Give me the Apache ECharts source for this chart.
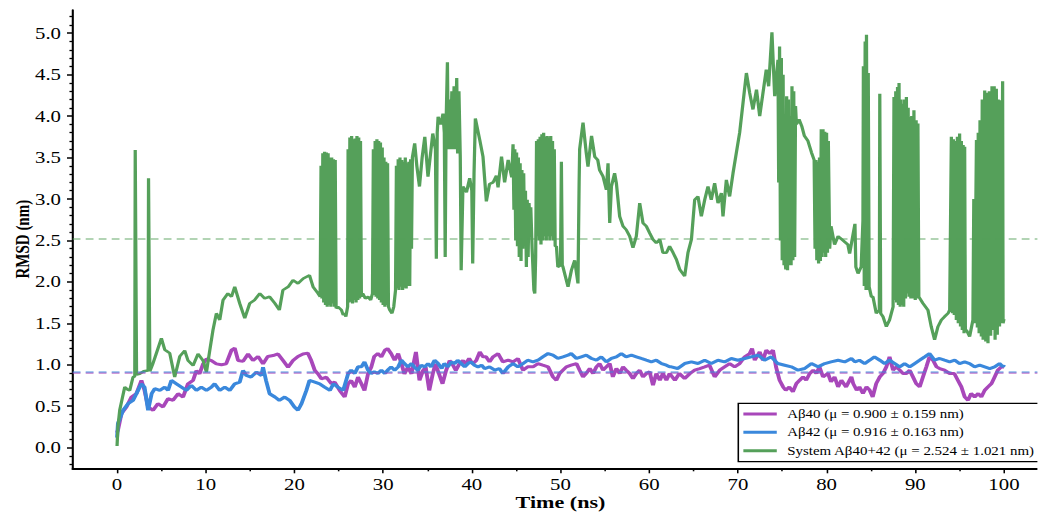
<!DOCTYPE html>
<html>
<head>
<meta charset="utf-8">
<script src="https://cdn.jsdelivr.net/npm/echarts@6/dist/echarts.min.js"></script>
<style>
html, body { margin: 0; padding: 0; background: #fff; overflow: hidden; }
#wrap { width: 1038px; height: 513px; overflow: hidden; }
#chart { height: 513px; transform-origin: 0 0; }
</style>
</head>
<body>
<div id="wrap"><div id="chart"></div></div>
<script>
// source figure is stretched horizontally, so draw narrower and scale x
const SX = 1.3;

const xMajorTicks = [0, 10, 20, 30, 40, 50, 60, 70, 80, 90, 100];
const xMinorTicks = [5, 15, 25, 35, 45, 55, 65, 75, 85, 95];
const yMajorTicks = [0, 0.5, 1, 1.5, 2, 2.5, 3, 3.5, 4, 4.5, 5];
const yMinorTicks = [-0.2, -0.1, 0.1, 0.2, 0.3, 0.4, 0.6, 0.7, 0.8, 0.9, 1.1, 1.2, 1.3, 1.4, 1.6, 1.7, 1.8, 1.9,
  2.1, 2.2, 2.3, 2.4, 2.6, 2.7, 2.8, 2.9, 3.1, 3.2, 3.3, 3.4, 3.6, 3.7, 3.8, 3.9, 4.1, 4.2, 4.3, 4.4,
  4.6, 4.7, 4.8, 4.9, 5.1, 5.2];

const mean40 = 0.900, sd40 = 0.159;
const mean42 = 0.916, sd42 = 0.163;
const meanSys = 2.524, sdSys = 1.021;

// Aβ40 RMSD (nm) vs time (ns)
const abeta40 = [[0,0.18],[0.1,0.21],[0.5,0.41],[1.06,0.49],[1.62,0.61],[2.18,0.65],[2.75,0.81],[3.1,0.69],[3.5,0.49],
  [4.06,0.45],[4.6,0.53],[5.19,0.49],[5.75,0.59],[6.31,0.57],[6.88,0.65],[7.44,0.61],[8.0,0.77],[8.57,0.81],[8.95,0.93],
  [9.3,0.89],[9.7,1.01],[10.08,1.07],[10.64,1.05],[11.2,1.01],[11.77,1.0],[12.3,1.01],[12.9,1.175],[13.27,1.2],[13.65,1.05],
  [14.2,1.04],[14.77,1.13],[15.33,1.05],[15.9,1.1],[16.46,1.01],[17.0,1.1],[17.59,1.11],[18.15,1.13],[18.72,1.05],[19.28,0.97],
  [19.84,1.05],[20.4,1.1],[20.97,1.13],[21.5,1.14],[21.9,1.05],[22.3,0.93],[22.66,0.89],[23.04,0.83],[23.6,0.85],[24.17,0.77],
  [24.54,0.79],[25.1,0.69],[25.67,0.61],[26.05,0.77],[26.4,0.81],[26.8,0.73],[27.17,0.85],[27.55,0.77],[27.9,0.69],[28.3,0.89],
  [28.66,0.97],[29.0,1.1],[29.4,1.135],[29.8,1.095],[30.2,1.175],[30.5,1.195],[30.9,1.135],[31.3,1.054],[31.7,1.135],[32.06,1.014],
  [32.4,0.89],[32.8,0.97],[33.2,0.89],[33.7,1.155],[34.1,0.81],[34.5,0.93],[34.8,0.97],[35.2,0.69],[35.6,0.89],[35.9,1.01],
  [36.3,0.89],[36.7,0.77],[37.1,0.93],[37.5,1.05],[37.8,1.01],[38.2,0.93],[38.6,1.01],[39.0,1.05],[39.3,1.01],[39.7,1.075],
  [40.1,1.01],[40.5,1.05],[40.9,1.155],[41.26,1.095],[41.6,1.095],[42.0,1.034],[42.4,1.095],[42.96,1.135],[43.5,1.034],[44.1,1.054],
  [44.65,1.034],[45.2,1.075],[45.77,0.934],[46.3,0.974],[46.9,0.974],[47.46,1.014],[48.0,0.994],[48.6,0.974],[49.15,0.853],[49.54,0.813],
  [49.9,0.894],[50.28,0.934],[50.66,0.974],[51.2,0.994],[51.8,1.014],[52.16,0.934],[52.54,0.853],[52.9,0.894],[53.3,0.954],[53.67,0.894],
  [54.05,0.974],[54.4,1.014],[54.8,0.934],[55.17,0.974],[55.55,1.014],[55.9,0.853],[56.3,0.954],[56.67,0.894],[57.05,0.974],[57.4,0.934],
  [57.8,0.894],[58.17,0.833],[58.55,0.894],[58.93,0.934],[59.3,0.853],[59.68,0.894],[60.05,0.914],[60.43,0.752],[60.8,0.894],[61.2,0.813],
  [61.55,0.894],[61.94,0.813],[62.3,0.894],[62.9,0.813],[63.4,0.894],[64.0,0.833],[64.6,0.894],[65.13,0.934],[65.7,0.954],[66.26,0.974],
  [66.8,0.994],[67.38,0.853],[67.95,0.934],[68.5,0.974],[69.07,1.014],[69.64,0.974],[70.2,1.014],[70.77,1.095],[71.33,1.135],[71.6,1.195],
  [71.9,1.054],[72.46,1.155],[72.83,1.054],[73.2,1.175],[73.6,1.135],[73.96,1.175],[74.3,0.974],[74.7,0.813],[75.1,0.732],[75.4,0.692],
  [75.8,0.732],[76.2,0.672],[76.6,0.773],[76.97,0.813],[77.35,0.853],[77.7,0.813],[78.1,0.894],[78.5,0.934],[78.85,0.894],[79.2,0.974],
  [79.6,0.853],[80.16,0.894],[80.5,0.793],[80.9,0.853],[81.3,0.732],[81.67,0.813],[82.2,0.732],[82.8,0.853],[83.0,0.773],[83.4,0.692],
  [83.7,0.732],[84.1,0.652],[84.5,0.732],[84.86,0.692],[85.2,0.611],[85.6,0.773],[86.0,0.853],[86.36,0.894],[86.74,0.974],[87.1,1.095],
  [87.5,0.934],[87.87,0.974],[88.25,0.934],[88.6,0.894],[89.0,0.894],[89.37,0.934],[89.74,0.853],[90.1,0.773],[90.5,0.732],[90.87,0.853],
  [91.25,0.974],[91.6,1.095],[92.0,1.054],[92.4,0.974],[92.75,0.954],[93.3,0.934],[93.88,0.894],[94.4,0.894],[94.8,0.813],[95.2,0.732],
  [95.57,0.611],[95.95,0.571],[96.3,0.652],[96.7,0.611],[97.1,0.652],[97.45,0.611],[97.83,0.692],[98.2,0.732],[98.6,0.773],[98.95,0.853],
  [99.3,0.934],[99.7,0.974],[100,0.97]];

// Aβ42 RMSD (nm)
const abeta42 = [[0,0.12],[0.1,0.29],[0.68,0.45],[1.24,0.53],[1.8,0.57],[2.37,0.69],[2.75,0.77],[3.1,0.73],[3.5,0.45],[3.9,0.65],
  [4.25,0.71],[4.82,0.69],[5.38,0.73],[5.75,0.69],[6.13,0.81],[6.7,0.77],[7.26,0.73],[7.82,0.69],[8.38,0.75],[8.95,0.69],
  [9.5,0.73],[10.08,0.69],[10.64,0.73],[11.0,0.77],[11.58,0.69],[12.15,0.73],[12.7,0.69],[13.27,0.77],[13.83,0.79],[14.2,0.93],
  [14.58,0.87],[15.1,0.85],[15.7,0.91],[16.28,0.87],[16.46,0.97],[16.8,0.81],[17.2,0.65],[17.8,0.61],[18.3,0.57],[18.9,0.61],
  [19.46,0.57],[20.0,0.49],[20.4,0.45],[20.8,0.53],[21.35,0.69],[21.7,0.81],[22.3,0.79],[22.85,0.77],[23.4,0.73],[24.0,0.69],
  [24.4,0.77],[24.9,0.73],[25.5,0.69],[26.05,0.89],[26.4,0.934],[26.8,0.894],[27.17,0.974],[27.55,0.974],[27.9,1.034],[28.3,0.934],
  [28.66,0.894],[29.0,0.914],[29.4,0.894],[29.8,0.934],[30.2,0.894],[30.5,0.934],[30.9,0.974],[31.3,0.934],[31.7,0.974],[32.06,1.054],
  [32.4,1.014],[32.8,0.974],[33.2,1.014],[33.5,0.974],[33.9,0.934],[34.3,0.994],[34.7,0.974],[35.06,1.014],[35.4,0.974],[35.8,1.054],
  [36.2,1.014],[36.6,0.954],[36.9,1.014],[37.3,0.974],[37.7,1.034],[38.07,1.014],[38.4,1.054],[38.8,1.014],[39.2,0.974],[39.57,1.014],
  [39.9,1.034],[40.3,0.994],[40.7,0.974],[41.1,0.994],[41.45,0.954],[42.0,0.974],[42.6,0.934],[43.1,0.954],[43.5,0.894],[44.1,0.974],
  [44.65,1.014],[45.2,0.974],[45.77,1.014],[46.3,1.054],[46.9,1.034],[47.46,1.054],[48.0,1.095],[48.6,1.135],[49.15,1.115],[49.7,1.075],
  [50.28,1.095],[50.85,1.115],[51.2,1.135],[51.8,1.075],[52.35,1.095],[52.9,1.115],[53.5,1.075],[54.05,1.054],[54.6,1.095],[55.17,1.034],
  [55.74,1.075],[56.3,1.095],[56.86,1.135],[57.4,1.095],[58.0,1.115],[58.55,1.095],[59.1,1.075],[59.68,1.054],[60.24,1.034],[60.8,1.054],
  [61.4,1.014],[61.94,0.994],[62.3,0.974],[62.5,0.974],[63.2,0.954],[64.0,1.014],[64.76,1.034],[65.5,1.014],[66.26,1.054],[67.0,1.014],
  [67.76,1.054],[68.5,1.034],[69.26,1.075],[70.0,1.054],[70.77,1.075],[71.5,1.095],[72.3,1.115],[73.0,1.054],[73.77,1.095],[74.5,1.014],
  [75.27,0.994],[76.03,0.974],[76.78,0.934],[77.53,0.954],[78.29,1.014],[79.03,0.974],[79.8,1.014],[80.5,1.034],[81.3,1.054],[82.04,1.034],
  [82.8,1.075],[83.2,1.034],[83.7,1.054],[84.3,1.014],[84.86,1.054],[85.4,1.095],[86.0,1.054],[86.55,1.014],[87.1,1.054],[87.7,1.014],
  [88.25,0.974],[88.8,1.014],[89.37,0.974],[89.93,1.014],[90.5,1.054],[91.06,1.095],[91.6,1.135],[92.18,1.054],[92.75,1.075],[93.3,1.054],
  [93.88,1.034],[94.45,1.054],[95.0,1.014],[95.57,1.034],[96.13,1.014],[96.7,0.974],[97.26,0.994],[97.83,0.974],[98.4,0.954],[98.95,0.974],
  [99.5,1.014],[99.9,0.974],[100,1.0]];

// System Aβ40+42 RMSD (nm)
const systemRmsd = [[0,0.02],[0.1,0.25],[0.3,0.45],[0.6,0.6],[0.87,0.73],[1.2,0.7],[1.43,0.69],[1.8,0.85],[2.0,0.86],[2.05,3.59],
  [2.13,3.59],[2.2,0.88],[2.56,0.89],[3.0,0.92],[3.5,0.93],[3.55,3.25],[3.62,3.25],[3.7,0.92],[4.0,1.0],[4.44,1.14],[5.0,1.32],
  [5.38,1.18],[5.94,1.14],[6.5,0.85],[7.07,1.1],[7.63,1.17],[8.0,1.05],[8.57,0.99],[9.13,1.13],[9.7,1.05],[10.08,0.91],[10.45,1.17],
  [10.82,1.42],[11.2,1.62],[11.58,1.54],[11.95,1.78],[12.5,1.86],[12.9,1.82],[13.27,1.94],[13.83,1.74],[14.4,1.56],[14.96,1.74],
  [15.5,1.78],[16.1,1.86],[16.65,1.8],[17.2,1.82],[17.8,1.74],[18.3,1.66],[18.7,1.9],[19.3,1.94],[19.84,2.02],[20.4,1.98],[21.0,2.04],
  [21.7,2.08],[22.1,1.94],[22.66,1.86],[22.9,1.82],
  [23.0,3.4],[23.1,1.8],[23.2,3.55],[23.3,1.75],[23.4,3.57],[23.5,1.72],[23.6,3.56],[23.7,1.7],[23.8,3.55],[23.9,1.72],[24.0,3.5],
  [24.1,1.7],[24.2,3.5],[24.3,1.74],[24.4,3.48],[24.5,1.7],[24.6,3.47],[24.7,1.68],[24.9,1.7],[25.3,1.66],[25.5,1.6],[25.67,1.62],
  [25.8,1.58],[26.0,1.7],[26.05,3.6],[26.15,1.75],[26.25,3.74],[26.35,1.76],[26.45,3.76],[26.55,1.74],[26.65,3.72],[26.75,1.78],
  [26.85,3.73],[26.95,1.75],[27.05,3.76],[27.15,1.78],[27.25,3.74],[27.35,1.8],[27.45,3.7],[27.55,1.82],[27.7,1.86],[28.0,1.8],
  [28.3,1.82],[28.6,1.78],[28.8,1.86],[28.9,3.6],[29.0,1.84],[29.1,3.7],[29.2,1.82],[29.3,3.72],[29.4,1.8],[29.5,3.7],[29.6,1.78],
  [29.7,3.68],[29.8,1.75],[29.9,3.62],[30.0,1.72],[30.1,3.5],[30.2,1.7],[30.3,3.45],[30.4,1.72],[30.5,3.43],[30.6,1.7],[30.74,1.66],
  [31.0,1.62],[31.2,1.7],[31.4,1.9],[31.5,3.4],[31.6,1.92],[31.7,3.48],[31.8,1.9],[31.9,3.5],[32.0,1.94],[32.1,3.47],[32.2,1.9],
  [32.3,3.45],[32.4,1.93],[32.5,3.5],[32.6,1.92],[32.7,3.43],[32.8,1.95],[32.9,3.45],[33.0,1.95],[33.1,3.48],[33.2,2.4],[33.3,3.5],
  [33.56,3.67],[33.8,3.4],[34.1,3.15],[34.4,3.5],[34.7,3.75],[35.06,3.27],[35.3,3.5],[35.6,3.79],[35.9,3.6],[36.0,2.28],[36.1,3.8],
  [36.2,3.99],[36.5,3.9],[36.75,4.03],[36.9,3.8],[37.0,2.3],[37.1,3.9],[37.25,4.65],[37.35,3.6],[37.5,4.2],[37.6,3.6],[37.75,4.3],
  [37.85,3.6],[38.0,4.36],[38.1,3.6],[38.3,4.46],[38.4,3.55],[38.55,4.3],[38.7,3.5],[38.8,2.14],[39.0,3.15],[39.4,3.08],[39.76,3.25],
  [40.0,3.1],[40.1,2.22],[40.25,3.3],[40.4,3.97],[40.9,3.71],[41.26,3.51],[41.64,2.97],[42.0,3.18],[42.4,3.2],[42.77,3.28],[42.96,3.14],
  [43.35,3.51],[43.7,3.2],[44.1,3.47],[44.5,3.26],
  [44.65,3.66],[44.75,2.87],[44.85,3.6],[44.95,2.5],[45.05,3.56],[45.15,2.43],[45.25,3.5],[45.35,2.3],[45.45,3.43],[45.55,2.25],
  [45.65,3.35],[45.75,2.4],[45.85,3.31],[45.95,2.55],[46.05,3.1],[46.15,2.18],[46.25,2.99],[46.35,2.3],[46.45,2.95],[46.55,2.75],
  [46.65,2.9],[46.8,2.4],[47.0,1.9],[47.1,1.86],[47.2,2.3],
  [47.3,3.7],[47.4,2.55],[47.5,3.72],[47.6,2.5],[47.7,3.75],[47.8,2.45],[47.9,3.78],[48.0,2.5],[48.1,3.8],[48.2,2.55],[48.3,3.75],
  [48.4,2.5],[48.5,3.76],[48.6,2.55],[48.7,3.74],[48.8,2.5],[48.9,3.76],[49.0,2.55],[49.1,3.7],[49.2,2.5],[49.3,3.6],[49.4,2.43],
  [49.54,2.43],[49.7,2.18],[50.0,2.2],[50.1,3.45],[50.2,2.2],[50.28,2.18],[50.66,2.02],[50.85,1.94],[51.23,2.14],[51.6,2.26],
  [51.97,1.98],[52.1,3.2],[52.16,3.6],[52.54,3.92],[52.9,3.56],[53.1,3.39],[53.5,3.76],[53.86,3.51],[54.2,3.47],[54.4,3.35],
  [54.8,3.27],[55.17,3.11],[55.36,3.43],[55.55,2.71],[55.74,3.15],[56.1,3.31],[56.3,3.19],[56.67,2.79],[57.05,2.67],[57.4,2.63],
  [57.8,2.55],[58.17,2.41],[58.55,2.55],[58.93,2.95],[59.3,2.71],[59.68,2.67],[60.05,2.59],[60.43,2.51],[60.8,2.47],[61.2,2.51],
  [61.55,2.35],[61.94,2.35],[62.3,2.43],[62.7,2.35],[63.07,2.27],[63.44,2.15],[64.0,2.07],[64.37,2.35],[64.76,2.51],[65.13,2.99],
  [65.5,3.03],[65.88,2.79],[66.26,2.99],[66.63,3.15],[67.0,2.99],[67.38,3.19],[67.76,2.95],[68.14,3.07],[68.32,2.79],[68.7,3.23],
  [69.07,3.03],[69.45,3.31],[69.83,3.56],[70.2,3.8],[70.58,4.16],[70.96,4.52],[71.33,4.28],[71.7,4.08],[72.1,4.32],[72.46,4.0],
  [72.83,4.28],[73.2,4.56],[73.47,4.36],[73.84,5.01],[74.15,4.24],[74.52,4.68],
  [74.6,3.2],[74.7,4.84],[74.8,2.5],[74.9,4.7],[75.0,2.26],[75.1,4.5],[75.2,2.2],[75.3,2.3],[75.4,2.15],[75.5,4.24],[75.6,2.14],
  [75.7,4.2],[75.8,2.2],[75.9,4.0],[76.0,2.2],[76.1,4.36],[76.2,2.26],[76.3,4.3],[76.4,2.3],[76.5,4.12],[76.6,3.9],[76.9,3.96],
  [77.2,3.88],[77.5,3.76],[77.9,3.7],[78.3,3.56],[78.6,3.47],
  [78.7,2.4],[78.8,3.47],[78.9,2.26],[79.0,3.45],[79.1,2.22],[79.2,3.5],[79.3,2.25],[79.4,3.84],[79.5,2.3],[79.6,3.84],[79.7,2.35],
  [79.8,3.81],[79.9,2.3],[80.0,3.8],[80.1,2.35],[80.2,3.7],[80.35,2.4],[80.5,2.67],[80.9,2.45],[81.3,2.55],[81.85,2.5],[82.4,2.45],
  [82.6,2.34],[83.0,2.58],[83.2,2.7],[83.3,2.18],[83.55,2.1],[83.9,2.18],[84.1,2.74],
  [84.15,4.6],[84.25,1.95],[84.35,4.9],[84.45,1.9],[84.5,4.98],[84.6,1.9],[84.7,4.52],[84.8,1.94],[85.05,1.82],[85.23,1.82],
  [85.6,1.62],[85.95,1.66],[86.0,4.27],[86.1,1.62],[86.36,1.58],[86.74,1.46],[87.1,1.54],[87.5,1.7],
  [87.6,4.23],[87.7,1.78],[87.8,4.3],[87.9,1.75],[88.0,4.35],[88.1,1.72],[88.17,4.4],[88.3,1.7],[88.4,4.2],[88.5,1.72],[88.6,4.15],
  [88.7,1.7],[88.8,4.2],[88.9,1.8],[89.0,4.23],[89.1,1.86],[89.2,4.1],[89.3,1.82],[89.4,3.99],[89.5,1.8],[89.6,4.0],[89.74,1.8],
  [89.85,4.07],[90.0,1.78],[90.1,3.95],[90.2,1.8],[90.3,3.91],[90.4,1.82],[90.5,1.82],[90.87,1.74],[91.43,1.66],[91.8,1.46],
  [92.18,1.3],[92.56,1.46],[92.94,1.54],[93.3,1.58],[93.7,1.62],[93.88,1.66],
  [94.07,3.75],[94.2,1.62],[94.3,3.72],[94.4,1.6],[94.5,3.7],[94.63,1.54],[94.75,3.75],[94.85,1.5],[95.0,3.79],[95.1,1.46],
  [95.2,3.7],[95.3,1.42],[95.4,3.65],[95.5,1.38],[95.57,3.63],[95.65,1.4],[95.76,1.42],[96.13,1.34],[96.5,1.54],
  [96.6,3.0],[96.7,1.5],[96.9,3.71],[97.0,1.45],[97.1,3.8],[97.2,1.38],[97.3,3.95],[97.45,1.34],[97.55,4.2],[97.65,1.3],[97.83,4.31],
  [97.95,1.28],[98.05,4.28],[98.2,1.26],[98.35,4.3],[98.5,1.35],[98.65,4.36],[98.76,1.42],[98.9,4.36],[99.0,1.3],[99.14,4.33],
  [99.25,1.36],[99.35,4.2],[99.5,1.46],[99.6,4.19],[99.7,1.5],[99.85,4.42],[99.9,1.5],[100,1.55]];

const colorA40 = '#A847BA';
const colorA42 = '#3A88DC';
const colorSys = '#55A05A';
const serif = 'Liberation Serif';

const name40 = 'Aβ40 (μ = ' + mean40.toFixed(3) + ' ± ' + sd40.toFixed(3) + ' nm)';
const name42 = 'Aβ42 (μ = ' + mean42.toFixed(3) + ' ± ' + sd42.toFixed(3) + ' nm)';
const nameSys = 'System Aβ40+42 (μ = ' + meanSys.toFixed(3) + ' ± ' + sdSys.toFixed(3) + ' nm)';

const W = 1038 / SX;
const chartDom = document.getElementById('chart');
chartDom.style.width = W + 'px';
chartDom.style.transform = 'scaleX(' + SX + ')';
const myChart = echarts.init(chartDom, null, {renderer: 'svg', width: W, height: 513});

function meanLine (value, color, width, opacity) {
  return {
    silent: true,
    symbol: ['none', 'none'],
    label: {show: false},
    emphasis: {disabled: true},
    lineStyle: {color: color, width: width, type: [6, 4], opacity: opacity},
    data: [{yAxis: value}]
  };
}

function makeSeries (name, data, color, width, mark) {
  return {
    name: name,
    type: 'line',
    data: data,
    showSymbol: false,
    symbol: 'none',
    lineStyle: {color: color, width: width},
    itemStyle: {color: color},
    emphasis: {disabled: true},
    markLine: mark
  };
}

const option = {
  animation: false,
  backgroundColor: '#fff',
  grid: {left: 72.7 / SX, top: 10, width: 975.6 / SX, height: 458.3, containLabel: false, outerBoundsMode: 'none'},
  legend: {
    orient: 'vertical',
    left: 738.3 / SX,
    top: 403.3,
    padding: [3.7, 4, 4, 3.9],
    icon: 'rect',
    itemWidth: 25.7,
    itemHeight: 3,
    itemGap: 4.35,
    borderColor: '#000',
    borderWidth: 1.2,
    borderRadius: 0,
    backgroundColor: '#fff',
    textStyle: {fontFamily: serif, fontSize: 11.5, color: '#000', lineHeight: 14, padding: [0, 0, 0, 3]},
    data: [name40, name42, nameSys]
  },
  xAxis: [
    {
      type: 'value', min: -5, max: 105,
      name: 'Time (ns)', nameLocation: 'middle', nameGap: 25, nameMoveOverlap: false,
      nameTextStyle: {fontFamily: serif, fontWeight: 'bold', fontSize: 17, color: '#000'},
      axisLine: {onZero: false, lineStyle: {color: '#000', width: 2}},
      axisTick: {customValues: xMajorTicks, length: 5, lineStyle: {color: '#000', width: 1.2}},
      axisLabel: {customValues: xMajorTicks, fontFamily: serif, fontSize: 16, color: '#000', margin: 8},
      splitLine: {show: false}
    },
    {
      type: 'value', min: -5, max: 105, position: 'bottom',
      axisLine: {show: false, onZero: false},
      axisTick: {customValues: xMinorTicks, length: 3, lineStyle: {color: '#000', width: 1.2}},
      axisLabel: {show: false},
      splitLine: {show: false}
    }
  ],
  yAxis: [
    {
      type: 'value', min: -0.25, max: 5.28,
      name: 'RMSD (nm)', nameLocation: 'middle', nameGap: 31, nameMoveOverlap: false,
      nameTextStyle: {fontFamily: serif, fontWeight: 'bold', fontSize: 15, color: '#000'},
      axisLine: {onZero: false, lineStyle: {color: '#000', width: 1.6}},
      axisTick: {customValues: yMajorTicks, length: 4.4, lineStyle: {color: '#000', width: 1.5}},
      axisLabel: {customValues: yMajorTicks, fontFamily: serif, fontSize: 16, color: '#000', margin: 9,
        formatter: (v) => v.toFixed(1)},
      splitLine: {show: false}
    },
    {
      type: 'value', min: -0.25, max: 5.28, position: 'left',
      axisLine: {show: false, onZero: false},
      axisTick: {customValues: yMinorTicks, length: 2.5, lineStyle: {color: '#000', width: 1.3}},
      axisLabel: {show: false},
      splitLine: {show: false}
    }
  ],
  series: [
    makeSeries(name40, abeta40, colorA40, 3, meanLine(mean40, colorA40, 2, 0.55)),
    makeSeries(name42, abeta42, colorA42, 3, meanLine(mean42, colorA42, 2, 0.45)),
    makeSeries(nameSys, systemRmsd, colorSys, 2.5, meanLine(meanSys, colorSys, 1.5, 0.6))
  ]
};

option && myChart.setOption(option);
</script>
</body>
</html>
